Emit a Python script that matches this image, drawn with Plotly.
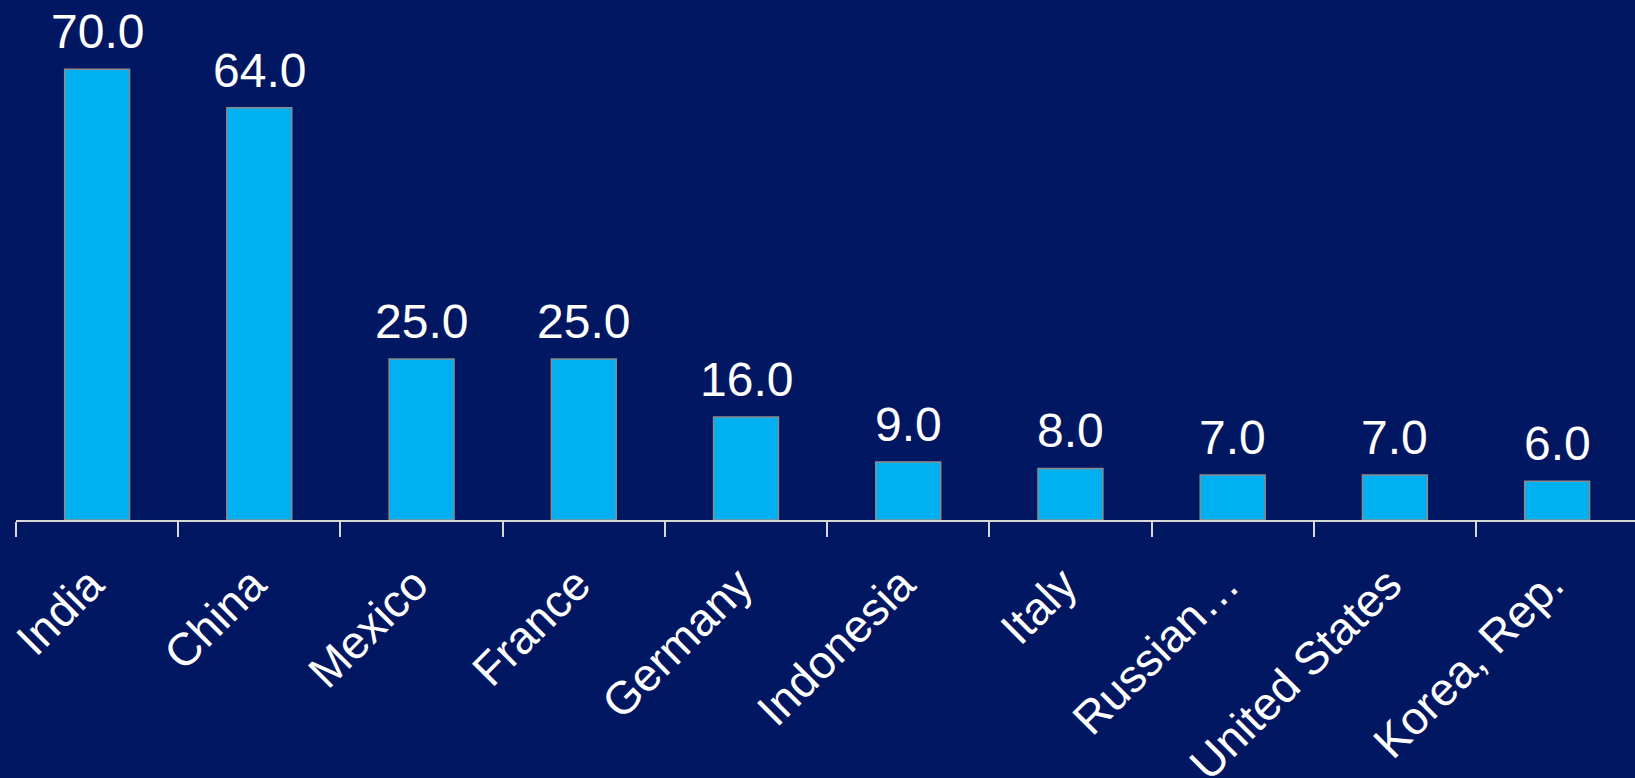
import plotly.graph_objects as go

countries = ["India", "China", "Mexico", "France", "Germany", "Indonesia",
             "Italy", "Russian…", "United States", "Korea, Rep."]
values = [70.0, 64.0, 25.0, 25.0, 16.0, 9.0, 8.0, 7.0, 7.0, 6.0]

BG = "#011761"
BAR = "#00B0F0"
FONT = "Liberation Sans, Arial, sans-serif"

fig = go.Figure()
fig.add_trace(go.Bar(
    x=countries, y=values, width=0.4,
    marker=dict(color=BAR, line=dict(color="#8c8c8c", width=1.5)),
    hoverinfo="skip",
))

for c, v in zip(countries, values):
    fig.add_annotation(x=c, y=v, text=f"{v:.1f}", showarrow=False,
                       yanchor="bottom", yshift=9,
                       font=dict(family=FONT, size=48, color="white"))

fig.update_layout(
    width=1635, height=778, autosize=False,
    paper_bgcolor=BG, plot_bgcolor=BG,
    margin=dict(l=16, r=0, t=0, b=258, autoexpand=False),
    showlegend=False,
    bargap=0.6,
)
fig.update_xaxes(
    type="category", range=[-0.5, 9.48], automargin=False,
    showline=True, linecolor="#d8d8d8", linewidth=2,
    ticks="outside", tickson="boundaries", ticklen=15, tickwidth=2, tickcolor="#d8d8d8",
    tickangle=-45, tickfont=dict(family=FONT, size=46, color="white"),
    ticklabelstandoff=17, ticklabelshift=-7,
    showgrid=False, zeroline=False,
)
fig.update_yaxes(range=[0, 80.75], visible=False, showgrid=False, zeroline=False,
                 automargin=False)

fig.write_html("out.html", config={"displayModeBar": False}, post_script=(
    "document.body.style.margin='0';document.body.style.padding='0';"
    "document.body.style.background='%s';document.body.style.overflow='hidden';" % BG))
